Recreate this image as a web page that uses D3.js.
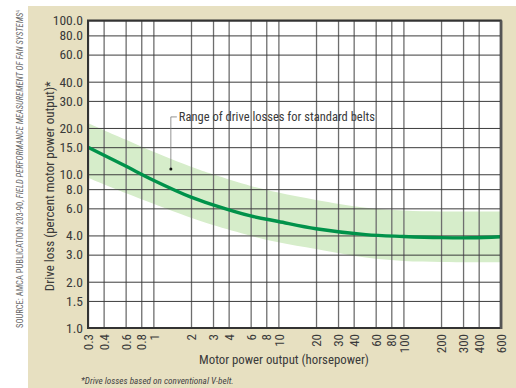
<!DOCTYPE html>
<html><head><meta charset="utf-8">
<script src="https://cdn.jsdelivr.net/npm/d3@7"></script>
<style>
html,body{margin:0;padding:0;background:#fff;}
svg{display:block;}
text{font-family:'Liberation Sans Narrow','Arial Narrow','Roboto Condensed','Liberation Sans',Arial,sans-serif;}
</style></head><body>
<svg id="c" width="516" height="388"></svg>
<script>
// ---- data ----
const xTicks = [0.3,0.4,0.6,0.8,1,2,3,4,6,8,10,20,30,40,60,80,100,200,300,400,600];
const yTicks = [1,1.5,2,3,4,6,8,10,15,20,30,40,60,80,100];
const hp        = [0.3, 0.6,  1,    2,    3,    6,    10,   20,   50,   100,  200,  350,  600];
const typical   = [15,  11.3, 9.15, 7.1,  6.33, 5.36, 4.93, 4.42, 4.05, 3.94, 3.87, 3.86, 3.92];
const rangeHigh = [21.5,16.8, 14.0, 11.2, 10.0, 8.4,  7.6,  6.8,  6.05, 5.8,  5.72, 5.72, 5.72];
const rangeLow  = [9.5, 7.55, 6.42, 5.21, 4.67, 3.98, 3.61, 3.26, 2.87, 2.73, 2.69, 2.68, 2.68];
const annotation = {hp: 1.38, value: 10.8, labelValue: 23.6, text: "Range of drive losses for standard belts"};

// ---- layout ----
const W = 516, H = 388;
const m = {l: 88, t: 20.5, r: 500.7, b: 328};
const x = d3.scaleLog().domain([0.3, 600]).range([m.l, m.r]);
const y = d3.scaleLog().domain([1, 100]).range([m.b, m.t]);
const svg = d3.select('#c');
const ink = '#3a3a3a';

svg.append('rect').attr('x', 28).attr('y', 6).attr('width', W - 28).attr('height', H - 6).attr('fill', '#e7e0c1');
svg.append('rect').attr('x', m.l).attr('y', m.t).attr('width', m.r - m.l).attr('height', m.b - m.t).attr('fill', '#fff');

const pts = hp.map((h, i) => ({h, t: typical[i], hi: rangeHigh[i], lo: rangeLow[i]}));
const smooth = d3.curveCatmullRom.alpha(0.5);
svg.append('path').datum(pts)
  .attr('d', d3.area().x(d => x(d.h)).y0(d => y(d.lo)).y1(d => y(d.hi)).curve(smooth))
  .attr('fill', '#d6edca');

// vertical grid + x labels
const gx = svg.append('g').attr('transform', `translate(0,${m.b})`)
  .call(d3.axisBottom(x).tickValues(xTicks).tickSize(-(m.b - m.t)).tickSizeOuter(0).tickFormat(d3.format('~g')));
gx.select('.domain').remove();
gx.selectAll('line').attr('stroke', '#6e6e6e').attr('stroke-width', 1.3);
gx.selectAll('text').attr('transform', 'rotate(-90)').attr('text-anchor', 'end')
  .attr('x', -6).attr('y', 0).attr('dy', '0.36em')
  .attr('fill', ink).style('font-size', '13px');

// horizontal grid + y labels
const gy = svg.append('g').attr('transform', `translate(${m.l},0)`)
  .call(d3.axisLeft(y).tickValues(yTicks).tickSize(-(m.r - m.l)).tickSizeOuter(0).tickFormat(d3.format('.1f')));
gy.select('.domain').remove();
gy.selectAll('line').attr('stroke', '#3c3c3c').attr('stroke-width', 1);
gy.selectAll('text').attr('x', -5).attr('fill', ink).style('font-size', '13.5px');

// main curve
svg.append('path').datum(pts)
  .attr('d', d3.line().x(d => x(d.h)).y(d => y(d.t)).curve(smooth))
  .attr('fill', 'none').attr('stroke', '#00924a').attr('stroke-width', 3.4);

// frame
svg.append('rect').attr('x', m.l).attr('y', m.t).attr('width', m.r - m.l).attr('height', m.b - m.t)
  .attr('fill', 'none').attr('stroke', '#333').attr('stroke-width', 2);
svg.append('line').attr('x1', m.r + 0.5).attr('x2', m.r + 0.5).attr('y1', m.t).attr('y2', m.b + 1)
  .attr('stroke', '#555').attr('stroke-width', 2.5);

// annotation
const ax = x(annotation.hp), ay = y(annotation.value), ly = y(annotation.labelValue);
svg.append('path').attr('d', `M${ax},${ay}V${ly}H${ax + 6}`).attr('fill', 'none').attr('stroke', '#777').attr('stroke-width', 0.8);
svg.append('circle').attr('cx', ax).attr('cy', ay).attr('r', 1.5).attr('fill', '#111');
svg.append('text').attr('x', ax + 8).attr('y', ly).attr('dy', '0.35em').attr('fill', ink)
  .style('font-size', '12.5px').text(annotation.text);

// axis titles
svg.append('text').attr('transform', `translate(54,${(m.t + m.b) / 2 + 12}) rotate(-90)`).attr('text-anchor', 'middle')
  .attr('fill', ink).style('font-size', '13px').text('Drive loss (percent motor power output)*');
svg.append('text').attr('x', 284).attr('y', 364).attr('text-anchor', 'middle')
  .attr('fill', ink).style('font-size', '12.8px').text('Motor power output (horsepower)');

// footnote
svg.append('text').attr('x', 81).attr('y', 384).attr('fill', '#444').style('font-size', '9.2px').style('font-style', 'italic')
  .text('*Drive losses based on conventional V-belt.');

// source
const src = svg.append('text').attr('transform', 'translate(23,328) rotate(-90)').attr('fill', '#666').style('font-size', '8.5px');
src.append('tspan').text('SOURCE: AMCA PUBLICATION 203-90, ');
src.append('tspan').style('font-style', 'italic').text('FIELD PERFORMANCE MEASUREMENT OF FAN SYSTEMS');
src.append('tspan').attr('dy', -3).style('font-size', '5.5px').text('4');
</script>
</body></html>
